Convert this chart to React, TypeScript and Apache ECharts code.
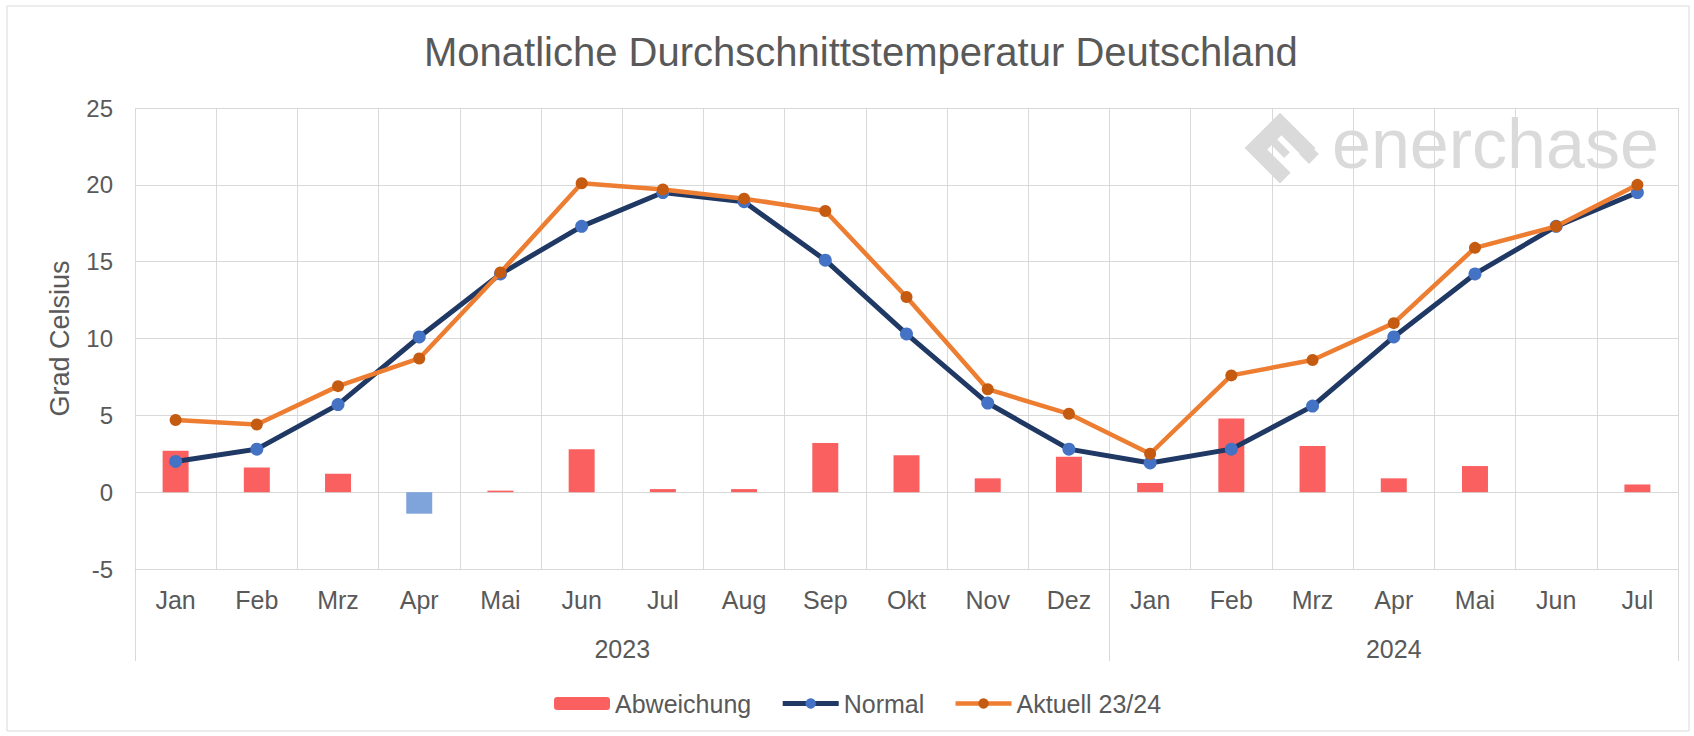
import React, { useEffect, useRef } from 'react';
import * as echarts from 'echarts';

const months = ['Jan', 'Feb', 'Mrz', 'Apr', 'Mai', 'Jun', 'Jul', 'Aug', 'Sep', 'Okt', 'Nov', 'Dez', 'Jan', 'Feb', 'Mrz', 'Apr', 'Mai', 'Jun', 'Jul'];
const years = ['2023', '2024'];
const yearSpans = [12, 7];
const normal = [2.0, 2.8, 5.7, 10.1, 14.2, 17.3, 19.5, 18.9, 15.1, 10.3, 5.8, 2.8, 1.9, 2.8, 5.6, 10.1, 14.2, 17.3, 19.5];
const aktuell = [4.7, 4.4, 6.9, 8.7, 14.3, 20.1, 19.7, 19.1, 18.3, 12.7, 6.7, 5.1, 2.5, 7.6, 8.6, 11.0, 15.9, 17.3, 20.0];
const abweichung = [2.7, 1.6, 1.2, -1.4, 0.1, 2.8, 0.2, 0.2, 3.2, 2.4, 0.9, 2.3, 0.6, 4.8, 3.0, 0.9, 1.7, 0.0, 0.5];
const yTicks = { min: -5, max: 25, interval: 5 };

const FONT = 'Liberation Sans, Arial, sans-serif';
const TEXT = '#595959';
const GRID = '#D9D9D9';

export default function App() {
  const ref = useRef<HTMLDivElement>(null);
  useEffect(() => {
    document.body.style.margin = '0';
    const chart = echarts.init(ref.current!, null, { renderer: 'svg' });
    const yearStarts: number[] = [];
    let acc = 0;
    yearSpans.forEach((s) => {
      yearStarts.push(acc);
      acc += s;
    });
    const yearTicks = [...yearStarts, acc];
    const yearCenters = yearSpans.map((s, i) => yearStarts[i] + s / 2);

    const option: any = {
      animation: false,
      backgroundColor: '#ffffff',
      textStyle: { fontFamily: FONT },
      title: {
        text: 'Monatliche Durchschnittstemperatur Deutschland',
        left: 419,
        top: 27,
        textStyle: { color: TEXT, fontSize: 40, fontWeight: 'normal', fontFamily: FONT },
      },
      graphic: [
        {
          type: 'rect',
          silent: true,
          z: -10,
          shape: { x: 7, y: 6, width: 1682, height: 725 },
          style: { fill: 'none', stroke: GRID, lineWidth: 1 },
        },
        {
          type: 'polygon',
          silent: true,
          z: -5,
          x: 1230,
          y: 98,
          originX: 50,
          originY: 50,
          scaleX: 0.5,
          scaleY: 0.5,
          rotation: -Math.PI / 4,
          shape: { points: [[0, 0], [100, 0], [100, 30], [34, 30], [34, 42], [70, 42], [70, 58], [34, 58], [34, 70], [100, 70], [100, 100], [0, 100]] },
          style: { fill: '#DADADA' },
        },
        {
          type: 'rect',
          silent: true,
          z: -5,
          x: 1309,
          y: 154,
          originX: 0,
          originY: 0,
          rotation: Math.PI / 4,
          shape: { x: -7, y: -7, width: 14, height: 14 },
          style: { fill: '#DADADA' },
        },
        {
          type: 'text',
          silent: true,
          z: -5,
          x: 1332,
          y: 144,
          style: { text: 'enerchase', font: '70px ' + FONT, fill: '#DADADA', verticalAlign: 'middle', align: 'left' },
        },
      ],
      legend: {
        left: 549,
        top: 686,
        itemWidth: 56,
        itemHeight: 13,
        itemGap: 29,
        textStyle: { color: TEXT, fontSize: 25, fontFamily: FONT },
        data: [
          { name: 'Abweichung' },
          { name: 'Normal', lineStyle: { width: 5 } },
          { name: 'Aktuell 23/24', lineStyle: { width: 4.5 } },
        ],
      },
      grid: { left: 135, right: 16, top: 108, bottom: 167, containLabel: false },
      xAxis: [
        {
          type: 'category',
          data: months,
          position: 'bottom',
          boundaryGap: true,
          axisLine: { show: true, onZero: false, lineStyle: { color: GRID } },
          axisTick: { show: false },
          splitLine: { show: true, interval: 0, lineStyle: { color: GRID } },
          axisLabel: { color: TEXT, fontSize: 25, margin: 18, interval: 0, fontFamily: FONT },
        },
        {
          type: 'value',
          min: 0,
          max: months.length,
          position: 'bottom',
          axisLine: { show: false, onZero: false },
          axisTick: { show: true, customValues: yearTicks, length: 92, inside: false, lineStyle: { color: GRID } },
          axisLabel: {
            show: true,
            customValues: yearCenters,
            margin: 67,
            color: TEXT,
            fontSize: 25,
            fontFamily: FONT,
            formatter: (v: number) => {
              const i = yearCenters.findIndex((c) => Math.abs(c - v) < 1e-6);
              return i >= 0 ? years[i] : '';
            },
          },
          splitLine: { show: false },
        },
      ],
      yAxis: {
        type: 'value',
        min: yTicks.min,
        max: yTicks.max,
        interval: yTicks.interval,
        name: 'Grad Celsius',
        nameLocation: 'middle',
        nameGap: 62,
        nameTextStyle: { color: TEXT, fontSize: 27, fontFamily: FONT },
        axisLine: { show: false },
        axisTick: { show: false },
        axisLabel: { color: TEXT, fontSize: 24, margin: 22, fontFamily: FONT },
        splitLine: { show: true, lineStyle: { color: GRID } },
      },
      series: [
        {
          name: 'Abweichung',
          type: 'bar',
          xAxisIndex: 0,
          barWidth: '32%',
          itemStyle: { color: '#FA6060' },
          data: abweichung.map((v) => (v < 0 ? { value: v, itemStyle: { color: '#7FA3DB' } } : v)),
          z: 2,
        },
        {
          name: 'Normal',
          type: 'line',
          xAxisIndex: 0,
          data: normal,
          symbol: 'circle',
          symbolSize: 13,
          lineStyle: { color: '#1F3864', width: 5 },
          itemStyle: { color: '#4472C4' },
          z: 3,
        },
        {
          name: 'Aktuell 23/24',
          type: 'line',
          xAxisIndex: 0,
          data: aktuell,
          symbol: 'circle',
          symbolSize: 12,
          lineStyle: { color: '#ED7D31', width: 4.5 },
          itemStyle: { color: '#C55A11' },
          z: 4,
        },
      ],
    };
    chart.setOption(option);
    return () => chart.dispose();
  }, []);
  return <div ref={ref} style={{ width: 1694, height: 736 }} />;
}
